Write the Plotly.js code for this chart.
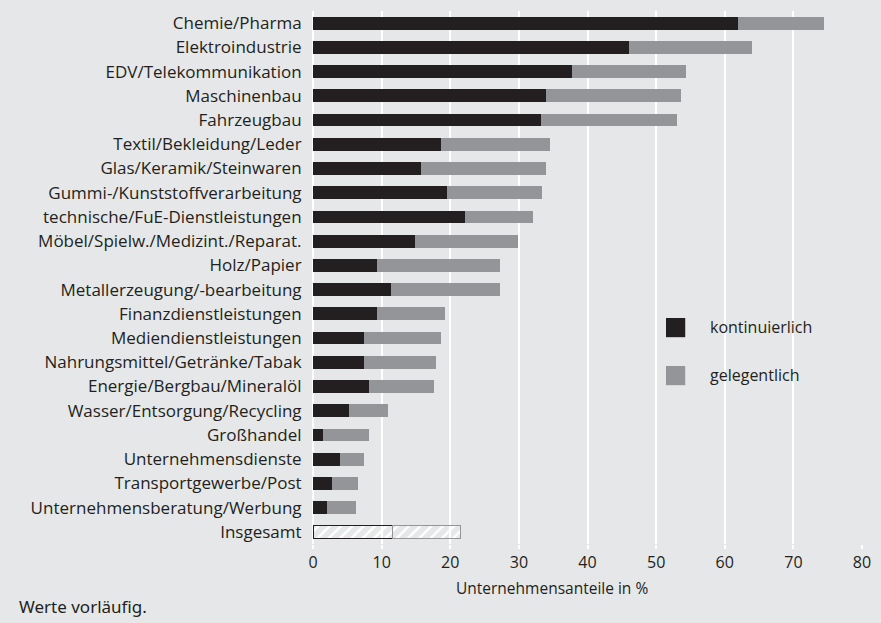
<!DOCTYPE html>
<html><head><meta charset="utf-8">
<script src="https://cdn.plot.ly/plotly-3.0.1.min.js"></script>
<style>html,body{margin:0;padding:0;background:#e6e7e8;}#chart{width:881px;height:623px;}</style>
</head><body><div id="chart"></div>
<script>
const categories = ["Chemie/Pharma","Elektroindustrie","EDV/Telekommunikation","Maschinenbau","Fahrzeugbau","Textil/Bekleidung/Leder","Glas/Keramik/Steinwaren","Gummi-/Kunststoffverarbeitung","technische/FuE-Dienstleistungen","Möbel/Spielw./Medizint./Reparat.","Holz/Papier","Metallerzeugung/-bearbeitung","Finanzdienstleistungen","Mediendienstleistungen","Nahrungsmittel/Getränke/Tabak","Energie/Bergbau/Mineralöl","Wasser/Entsorgung/Recycling","Großhandel","Unternehmensdienste","Transportgewerbe/Post","Unternehmensberatung/Werbung","Insgesamt"];
const kontinuierlich = [61.9,46.1,37.7,34.0,33.2,18.6,15.8,19.5,22.2,14.9,9.3,11.4,9.3,7.5,7.4,8.1,5.3,1.4,3.9,2.7,2.1,11.6];
const gesamt = [74.4,63.9,54.4,53.6,53.0,34.6,34.0,33.4,32.1,29.8,27.3,27.2,19.2,18.7,17.9,17.6,11.0,8.2,7.5,6.5,6.2,21.5];
const gelegentlich = gesamt.map((t,i)=>+(t-kontinuierlich[i]).toFixed(1));
const seriesNames = ["kontinuierlich","gelegentlich"];
const xTicks = [0,10,20,30,40,50,60,70,80];

const BLACK = "#231f20", GRAY = "#939598", BG = "#e6e7e8";
const isTotal = categories.map(c => c === "Insgesamt");
function mk(color, hatch, outline){
  return {
    color: isTotal.map(t => t ? "#ffffff" : color),
    line: {color: outline, width: isTotal.map(t => t ? 1.3 : 0)},
    pattern: {shape: isTotal.map(t => t ? "/" : ""), fgcolor: hatch, bgcolor: "#ffffff", size: 8, solidity: 0.3, fillmode: "replace"}
  };
}
const traces = [
  {type:"bar", orientation:"h", y:categories, x:kontinuierlich, name:seriesNames[0], marker:mk(BLACK, BLACK, BLACK), width:0.53},
  {type:"bar", orientation:"h", y:categories, x:gelegentlich, name:seriesNames[1], marker:mk(GRAY, "#a7a9ac", GRAY), width:0.53}
];
const F = "'Open Sans', sans-serif";
const layout = {
  width:881, height:623,
  paper_bgcolor:BG, plot_bgcolor:BG,
  margin:{l:313, r:19, t:11, b:79},
  barmode:"stack",
  showlegend:false,
  font:{family:F, size:16, color:BLACK},
  xaxis:{range:[0,80], tickvals:xTicks, showgrid:true, gridcolor:"#ffffff", gridwidth:2,
         zeroline:true, zerolinecolor:"#ffffff", zerolinewidth:2,
         ticks:"outside", ticklen:4, tickcolor:"#ffffff", tickwidth:2,
         tickfont:{family:F, size:16, color:BLACK},
         fixedrange:true},
  yaxis:{autorange:"reversed", type:"category", showgrid:false, zeroline:false,
         ticks:"outside", ticklen:7, tickcolor:"rgba(0,0,0,0)",
         tickfont:{family:F, size:17, color:BLACK}, fixedrange:true},
  shapes:[
    {type:"rect", xref:"paper", yref:"paper", x0:0.643, x1:0.678, y0:0.424, y1:0.388, fillcolor:BLACK, line:{width:0}},
    {type:"rect", xref:"paper", yref:"paper", x0:0.643, x1:0.678, y0:0.334, y1:0.298, fillcolor:GRAY, line:{width:0}}
  ],
  annotations:[
    {xref:"paper", yref:"paper", x:0.435, y:-0.083, text:"Unternehmensanteile in %", showarrow:false, xanchor:"center", yanchor:"middle", font:{family:F, size:15.5, color:BLACK}},
    {xref:"paper", yref:"paper", x:0.723, y:0.407, text:seriesNames[0], showarrow:false, xanchor:"left", yanchor:"middle", xshift:-2, font:{family:F, size:16, color:BLACK}},
    {xref:"paper", yref:"paper", x:0.723, y:0.317, text:seriesNames[1], showarrow:false, xanchor:"left", yanchor:"middle", xshift:-2, font:{family:F, size:16, color:BLACK}},
    {xref:"paper", yref:"paper", x:-294/549, y:-0.118, text:"Werte vorläufig.", showarrow:false, xanchor:"left", yanchor:"middle", xshift:-2, font:{family:"'Noto Sans', sans-serif", size:17, color:BLACK}}
  ]
};
Plotly.newPlot("chart", traces, layout, {displayModeBar:false, staticPlot:true});
</script></body></html>
